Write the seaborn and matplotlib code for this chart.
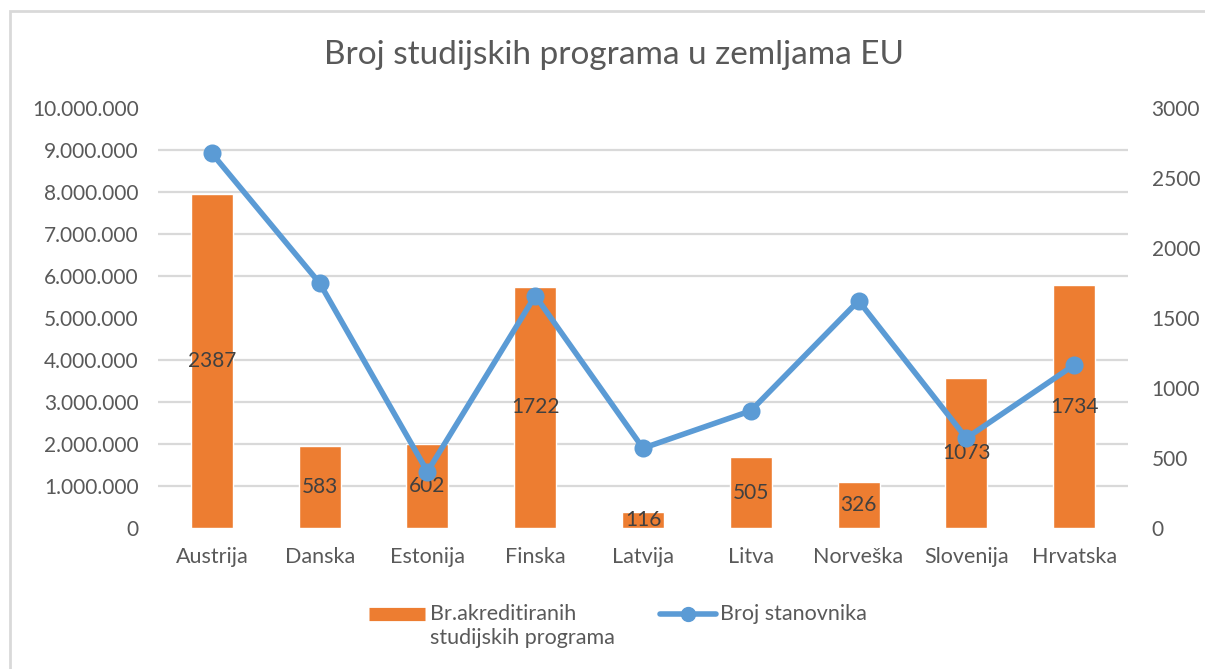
import numpy as np
import matplotlib
matplotlib.use('Agg')
import matplotlib.pyplot as plt
from matplotlib.ticker import FuncFormatter
from matplotlib.patches import Rectangle
from matplotlib.lines import Line2D
import seaborn as sns

sns.set_style('white')
plt.rcParams['font.family'] = ['Lato', 'DejaVu Sans']

# data
zemlje = ['Austrija', 'Danska', 'Estonija', 'Finska', 'Latvija', 'Litva',
          'Norveška', 'Slovenija', 'Hrvatska']
programi = [2387, 583, 602, 1722, 116, 505, 326, 1073, 1734]
stanovnici = [8920000, 5830000, 1340000, 5530000, 1900000, 2790000,
              5410000, 2140000, 3880000]

orange = '#ED7D31'
blue = '#5B9BD5'
txt = '#595959'
grid_c = '#D9D9D9'
fs = 15

W, H = 1205, 669
fig = plt.figure(figsize=(W / 100, H / 100), dpi=100)
fig.patch.set_facecolor('white')

# plot area in pixels: x 158..1128, y 108..528
ax = fig.add_axes([158 / W, (H - 528) / H, 970 / W, 420 / H])
ax2 = ax.twinx()
ax.set_zorder(2)
ax2.set_zorder(1)
ax.patch.set_visible(False)

# bars (right axis)
sns.barplot(x=zemlje, y=programi, ax=ax2, color=orange, width=0.39,
            saturation=1, zorder=2)
ax2.bar_label(ax2.containers[0], label_type='center', fontsize=fs,
              color='#404040')
ax2.set_ylim(0, 3000)
ax2.set_yticks(np.arange(0, 3001, 500))
ax2.set_yticks(np.arange(0, 3001, 300), minor=True)
ax2.set_axisbelow(True)
ax2.grid(which='minor', axis='y', color=grid_c, lw=1.6)
ax2.grid(which='major', axis='y', visible=False)
ax2.tick_params(axis='y', which='both', length=0, labelsize=fs,
                labelcolor=txt, pad=17)
ax2.set_ylabel('')

# line (left axis)
sns.pointplot(x=zemlje, y=stanovnici, ax=ax, color=blue, markers='o',
              markersize=10, linewidth=4)
ax.set_ylim(0, 10000000)
ax.set_yticks(np.arange(0, 10000001, 1000000))
ax.yaxis.set_major_formatter(FuncFormatter(lambda v, p: f'{v:,.0f}'.replace(',', '.')))
ax.tick_params(axis='y', length=0, labelsize=fs, labelcolor=txt, pad=14)
ax.tick_params(axis='x', length=0, labelsize=15.5, labelcolor=txt, pad=14)
ax2.tick_params(axis='x', length=0)
ax.set_xlim(-0.5, len(zemlje) - 0.5)
ax.set_ylabel('')

for a in (ax, ax2):
    for s in a.spines.values():
        s.set_visible(False)

fig.text(614 / W, 1 - 55 / H, 'Broj studijskih programa u zemljama EU',
         ha='center', va='center', fontsize=24, color=txt)

handles = [Line2D([], [], color=orange, lw=9.5, solid_capstyle='butt'),
           Line2D([], [], color=blue, lw=4, marker='o', markersize=10)]
labels = ['Br.akreditiranih\nstudijskih programa', 'Broj stanovnika']
leg = fig.legend(handles, labels, loc='upper left',
                 bbox_to_anchor=(350 / W, 1 - 585 / H), ncol=2,
                 frameon=False, fontsize=15.5, handlelength=2.6,
                 handleheight=1.2, handletextpad=0.2, columnspacing=2.1,
                 labelspacing=0.1)
for t in leg.get_texts():
    t.set_color(txt)
    t.set_multialignment('left')
    t.set_linespacing(1.25)
# put the legend keys next to the first line of their label
leg._legend_handle_box.align = 'top'
for col in leg._legend_handle_box.get_children():
    for item in col.get_children():
        item.align = 'top'

# light frame around the chart
fig.patches.append(Rectangle((10 / W, -0.1), 1.5, 1 - 11 / H + 0.1,
                             transform=fig.transFigure, fill=False,
                             edgecolor=grid_c, lw=2))

fig.savefig('out.png', dpi=100, facecolor='white')
